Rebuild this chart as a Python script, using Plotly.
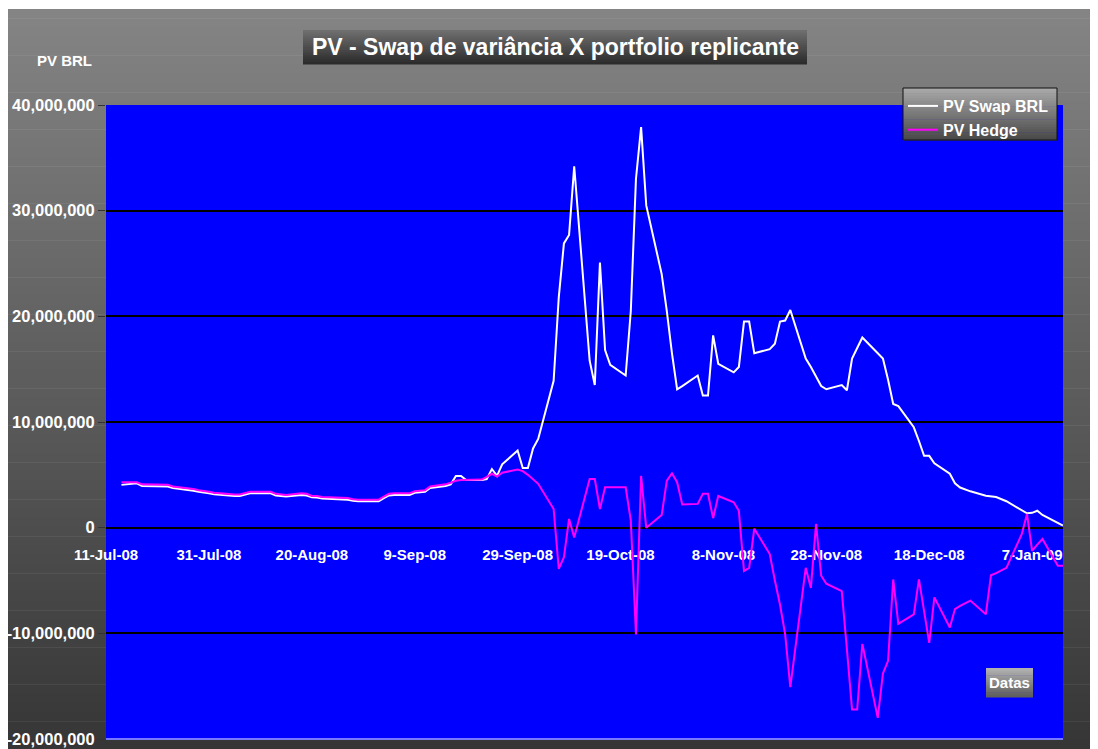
import plotly.graph_objects as go
import pandas as pd

# ---------------- data ----------------
first_date, last_date = "2008-07-14", "2009-01-13"
holidays = ["2008-12-25", "2009-01-01"]
dates = [d for d in pd.bdate_range(first_date, last_date) if d.strftime("%Y-%m-%d") not in holidays]

# PV Swap BRL (millions of BRL)
pv_swap_m = [
    # Jul 14-31
    4.05, 4.1, 4.1, 4.2, 3.95, 3.95, 3.9, 3.9, 3.75, 3.7, 3.5, 3.4, 3.35, 3.25,
    # Aug
    3.15, 3.0, 3.0, 3.0, 3.1, 3.25, 3.25, 3.25, 3.05, 3.0, 2.95,
    3.1, 3.05, 2.87, 2.85, 2.75, 2.72, 2.72, 2.65, 2.55, 2.5,
    # Sep
    2.5, 2.5, 2.8, 3.05, 3.1, 3.1, 3.3, 3.35, 3.4, 3.75, 3.95, 4.1, 4.9, 4.9, 4.5,
    4.5, 4.6, 5.55, 4.9, 6.0, 7.3, 5.65,
    # Oct
    5.65, 7.5, 8.4, 13.9, 21.8, 26.9, 27.7, 34.2, 15.8, 13.5, 25.1, 16.8, 15.4,
    14.4, 20.5, 33.0, 37.9, 30.5, 24.0, 20.5, 16.5, 13.1, 13.4,
    # Nov
    14.4, 12.5, 12.5, 18.2, 15.5, 14.7, 15.2, 19.5, 19.5, 16.5,
    16.9, 17.4, 19.5, 19.6, 20.6, 16.0, 15.2, 14.3, 13.4, 13.1,
    # Dec
    13.5, 13.0, 16.0, 17.0, 18.0, 16.5, 16.0, 14.0, 11.7, 11.5,
    9.5, 8.2, 6.8, 6.8, 6.1, 5.1, 4.2, 3.8, 3.44, 3.03, 2.95, 2.9,
    # Jan
    2.5, 1.7, 1.36, 1.4, 1.6, 1.2, 0.5, 0.2,
]

# PV Hedge (millions of BRL)
pv_hedge_m = [
    # Jul 14-31
    4.3, 4.3, 4.25, 4.3, 4.1, 4.1, 4.05, 4.05, 3.9, 3.85, 3.65, 3.55, 3.5, 3.4,
    # Aug
    3.3, 3.15, 3.15, 3.15, 3.25, 3.4, 3.4, 3.4, 3.2, 3.15, 3.1,
    3.25, 3.2, 3.0, 3.0, 2.9, 2.87, 2.87, 2.8, 2.7, 2.65,
    # Sep
    2.65, 2.65, 2.95, 3.2, 3.25, 3.25, 3.45, 3.5, 3.55, 3.9, 4.1, 4.25, 4.45, 4.5, 4.5,
    4.55, 4.8, 5.1, 4.83, 5.2, 5.5, 5.35,
    # Oct
    5.0, 4.6, 4.15, 1.77, -3.9, -2.8, 0.82, -0.92, 4.6, 4.6, 1.77, 3.82, 3.82,
    3.82, 0.66, -10.1, 4.9, 0.0, 1.2, 4.45, 5.15, 4.3, 2.2,
    # Nov
    2.25, 3.2, 3.2, 0.9, 3.0, 2.4, 1.6, -4.1, -3.8, -0.1,
    -2.5, -5.0, -7.3, -10.1, -15.1, -3.8, -5.7, 0.35, -4.55, -5.3,
    # Dec
    -6.0, -11.5, -17.2, -17.2, -11.0, -18.0, -13.8, -12.6, -4.9, -9.1,
    -8.2, -4.9, -8.0, -10.9, -6.6, -9.45, -7.7, -7.4, -6.9, -8.2, -4.5, -4.3,
    # Jan
    -3.8, -0.6, 1.3, -2.2, -1.6, -1.07, -3.6, -3.6,
]

pv_swap = [v * 1e6 for v in pv_swap_m]
pv_hedge = [v * 1e6 for v in pv_hedge_m]

x_tick_dates = ["2008-07-11", "2008-07-31", "2008-08-20", "2008-09-09", "2008-09-29",
                "2008-10-19", "2008-11-08", "2008-11-28", "2008-12-18", "2009-01-07"]
y_tick_values = [-20e6, -10e6, 0, 10e6, 20e6, 30e6, 40e6]
y_tick_labels = ["-20,000,000", "-10,000,000", "0", "10,000,000", "20,000,000",
                 "30,000,000", "40,000,000"]
x_range = ["2008-07-11", "2009-01-13"]

title_text = "PV - Swap de variância X portfolio replicante"
y_title = "PV BRL"
x_title = "Datas"
series_names = ["PV Swap BRL", "PV Hedge"]

# ---------------- layout geometry ----------------
# The page body keeps its default 8px margin, so the figure is drawn 8px
# in from the top-left corner of the window; coordinates below are window pixels.
OFF = 8
W, H = 1098 - OFF, 749 - OFF
L, R, T, B = 106 - OFF, 35, 105 - OFF, 10
PW = W - L - R
PH = H - T - B


def fx(x):
    return (x - OFF - L) / PW


def fy(y):
    return (H - B - (y - OFF)) / PH


def mix(c1, c2, t):
    return "rgb(%d,%d,%d)" % tuple(round(a + (b - a) * t) for a, b in zip(c1, c2))


shapes = []


def grad_box(x0, y0, x1, y1, ctop, cbot, n, layer):
    h = (y1 - y0) / n
    for i in range(n):
        shapes.append(dict(type="rect", xref="paper", yref="paper",
                           x0=fx(x0), x1=fx(x1), y0=fy(y0 + i * h), y1=fy(y0 + (i + 1) * h + 0.6),
                           fillcolor=mix(ctop, cbot, (i + 0.5) / n), line=dict(width=0),
                           layer=layer))


# background gradient (chart area)
grad_box(OFF, 9, 1098, 749, (132, 132, 132), (54, 54, 54), 80, "below")
# plot area
shapes.append(dict(type="rect", xref="paper", yref="paper", x0=0, x1=1, y0=0, y1=1,
                   fillcolor="#0000FF", line=dict(width=0), layer="below"))
# title box
grad_box(303, 30, 807, 64, (112, 112, 112), (42, 42, 42), 16, "below")
# legend box
grad_box(903, 88, 1057, 140, (170, 170, 170), (72, 72, 72), 20, "above")
shapes.append(dict(type="rect", xref="paper", yref="paper", x0=fx(903), x1=fx(1057),
                   y0=fy(140), y1=fy(88), line=dict(color="#111111", width=1),
                   fillcolor="rgba(0,0,0,0)", layer="above"))
# Datas box
grad_box(986, 668, 1033, 697, (180, 180, 180), (92, 92, 92), 12, "above")
# bottom edge of plot
shapes.append(dict(type="line", xref="paper", yref="paper", x0=0, x1=1, y0=0, y1=0,
                   line=dict(color="#7878ff", width=2), layer="above"))

font_family = "Liberation Sans, Arial, sans-serif"

fig = go.Figure()
fig.add_trace(go.Scatter(x=dates, y=pv_swap, mode="lines", name=series_names[0],
                         line=dict(color="#FFFFFF", width=2)))
fig.add_trace(go.Scatter(x=dates, y=pv_hedge, mode="lines", name=series_names[1],
                         line=dict(color="#FF00FF", width=2)))

annotations = [
    dict(text=title_text, xref="paper", yref="paper", x=fx(555), y=fy(47),
         xanchor="center", yanchor="middle", showarrow=False,
         font=dict(family=font_family, size=23, color="white", weight="bold")),
    dict(text=y_title, xref="paper", yref="paper", x=fx(64), y=fy(61),
         xanchor="center", yanchor="middle", showarrow=False,
         font=dict(family=font_family, size=15, color="white", weight="bold")),
    dict(text=x_title, xref="paper", yref="paper", x=fx(1009.5), y=fy(682.5),
         xanchor="center", yanchor="middle", showarrow=False,
         font=dict(family=font_family, size=15, color="white", weight="bold")),
]

fig.update_layout(
    width=W, height=H,
    margin=dict(l=L, r=R, t=T, b=B, pad=0, autoexpand=False),
    paper_bgcolor="white",
    plot_bgcolor="#0000FF",
    shapes=shapes,
    annotations=annotations,
    showlegend=True,
    hovermode=False,
    legend=dict(x=fx(903), y=fy(89), xanchor="left", yanchor="top",
                bgcolor="rgba(0,0,0,0)", borderwidth=0,
                font=dict(family=font_family, size=16, color="white", weight="bold"),
                itemwidth=30, tracegroupgap=0),
    xaxis=dict(type="date", range=x_range, anchor="free", position=1/3,
               showline=True, linecolor="#000000", linewidth=1.5, showgrid=False,
               zeroline=False, tickmode="array", tickvals=x_tick_dates,
               tickformat="%-d-%b-%y", ticks="", ticklabelstandoff=14,
               tickfont=dict(family=font_family, size=15, color="white", weight="bold"),
               layer="below traces", automargin=False),
    yaxis=dict(range=[-20e6, 40e6], tickmode="array", tickvals=y_tick_values,
               ticktext=y_tick_labels, showgrid=True, gridcolor="#000000", gridwidth=1.5,
               zeroline=False, showline=False, ticks="outside", ticklen=7,
               tickcolor="#333333", automargin=False,
               tickfont=dict(family=font_family, size=16.5, color="white", weight="bold")),
)

fig.write_html("out.html", config={"displayModeBar": False})
